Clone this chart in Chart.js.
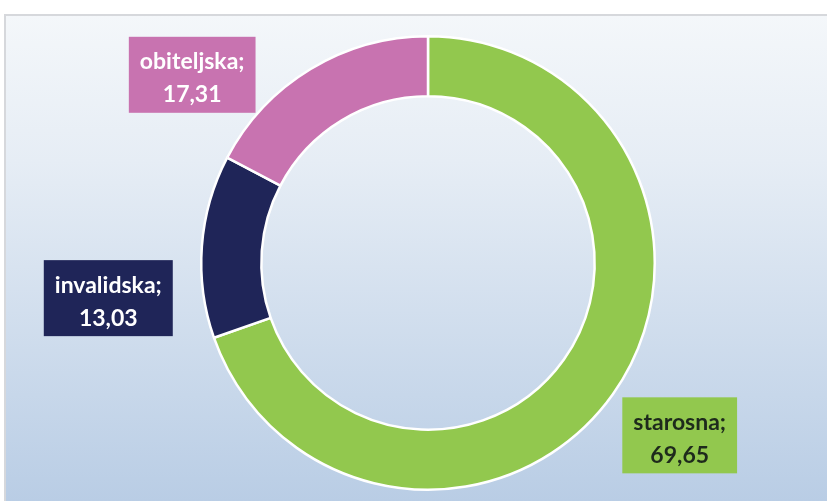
<!DOCTYPE html>
<html>
<head>
<meta charset="utf-8">
<script src="https://cdn.jsdelivr.net/npm/chart.js@4/dist/chart.umd.min.js"></script>
<style>
    html, body { margin: 0; padding: 0; background: #ffffff; }
    #wrap { width: 827px; height: 501px; position: relative; }
</style>
</head>
<body>
<div id="wrap"><canvas id="chart" width="827" height="501"></canvas></div>
<script>
const categories = ['starosna', 'invalidska', 'obiteljska'];
const values = [69.65, 13.03, 17.31];
const valueLabels = ['69,65', '13,03', '17,31'];
const colors = ['#92c84e', '#1f2558', '#c873b0'];
const labelTextColors = ['#1e2a1c', '#ffffff', '#ffffff'];
// label box centres, relative to doughnut centre, as fraction of outer radius
const labelOffsets = [[1.11, 0.76], [-1.41, 0.155], [-1.04, -0.83]];

// panel background with the soft blue gradient
const backgroundPlugin = {
    id: 'panelBackground',
    beforeDraw(chart) {
        const ctx = chart.ctx;
        ctx.save();
        ctx.fillStyle = '#ffffff';
        ctx.fillRect(0, 0, chart.width, chart.height);
        const grad = ctx.createLinearGradient(0, 15, 0, chart.height);
        grad.addColorStop(0, '#f4f7fa');
        grad.addColorStop(0.3, '#e6edf5');
        grad.addColorStop(1, '#b9cde5');
        ctx.fillStyle = grad;
        ctx.fillRect(6, 15, chart.width - 6, chart.height - 15);
        ctx.strokeStyle = '#d6d8dc';
        ctx.lineWidth = 2;
        ctx.beginPath();
        ctx.moveTo(5, chart.height);
        ctx.lineTo(5, 15);
        ctx.lineTo(chart.width, 15);
        ctx.stroke();
        ctx.restore();
    }
};

// Excel style label boxes filled with the slice colour
const boxLabelPlugin = {
    id: 'boxLabels',
    afterDatasetsDraw(chart) {
        const ctx = chart.ctx;
        const meta = chart.getDatasetMeta(0);
        ctx.save();
        ctx.font = 'bold 23px Lato, "Open Sans", sans-serif';
        ctx.textAlign = 'center';
        ctx.textBaseline = 'middle';
        meta.data.forEach((arc, i) => {
            const r = arc.outerRadius;
            const cx = arc.x + labelOffsets[i][0] * r;
            const cy = arc.y + labelOffsets[i][1] * r;
            const line1 = categories[i] + ';';
            const line2 = valueLabels[i];
            const w = Math.max(ctx.measureText(line1).width, ctx.measureText(line2).width) + 22;
            const h = 76;
            ctx.fillStyle = colors[i];
            ctx.fillRect(cx - w / 2, cy - h / 2, w, h);
            ctx.fillStyle = labelTextColors[i];
            ctx.fillText(line1, cx, cy - 13);
            ctx.fillText(line2, cx, cy + 20);
        });
        ctx.restore();
    }
};

new Chart(document.getElementById('chart'), {
    type: 'doughnut',
    data: {
        labels: categories,
        datasets: [{
            data: values,
            backgroundColor: colors,
            borderColor: '#ffffff',
            borderWidth: 2.5,
            hoverOffset: 0
        }]
    },
    options: {
        responsive: false,
        animation: false,
        cutout: '73.5%',
        layout: { padding: { top: 35, bottom: 10, left: 200, right: 171 } },
        plugins: {
            legend: { display: false },
            tooltip: { enabled: false }
        }
    },
    plugins: [backgroundPlugin, boxLabelPlugin]
});
</script>
</body>
</html>
